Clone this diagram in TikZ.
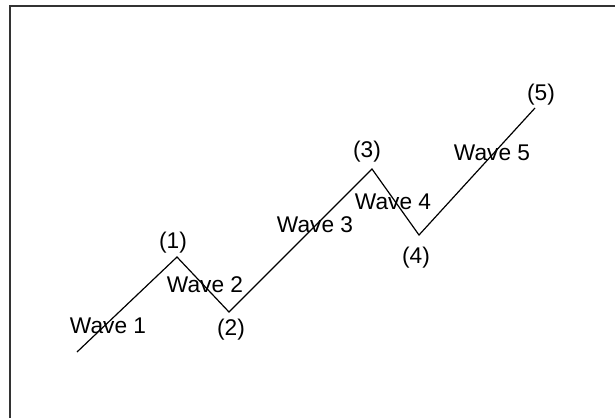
\documentclass[tikz,border=0pt]{standalone}
\usepackage{fontspec}
\setmainfont{Liberation Sans}
\usetikzlibrary{positioning}

\begin{document}
\begin{tikzpicture}[
    x=1pt, y=-1pt,
    frame/.style={line width=2pt, black!80},
    wave/.style={line width=1.2pt, line join=miter},
    lbl/.style={inner sep=0pt, font=\fontsize{22.7}{27}\selectfont}
]
    \useasboundingbox (0,0) rectangle (615,418);

    % 1. Moldura (apenas topo e esquerda)
    \coordinate (FA) at (10,418);
    \coordinate (FB) at (10,6);
    \coordinate (FC) at (615,6);
    \draw[frame] (FA) -- (FB) -- (FC);

    % 2. Pontos da onda
    \coordinate (P0) at (77,352);
    \coordinate (P1) at (177,257);
    \coordinate (P2) at (229,312);
    \coordinate (P3) at (372,169);
    \coordinate (P4) at (419,235);
    \coordinate (P5) at (535,108);

    % 3. Linha da onda
    \draw[wave] (P0) -- (P1) -- (P2) -- (P3) -- (P4) -- (P5);

    % 4. Rótulos dos pontos
    \node[lbl] (L1) at (173,243) {(1)};
    \node[lbl] (L2) at (231,330) {(2)};
    \node[lbl] (L3) at (367,152) {(3)};
    \node[lbl] (L4) at (416,258) {(4)};
    \node[lbl] (L5) at (541,95) {(5)};

    % 5. Rótulos das ondas
    \node[lbl] (W1) at (108,326) {Wave 1};
    \node[lbl] (W2) at (205,285) {Wave 2};
    \node[lbl] (W3) at (315,225) {Wave 3};
    \node[lbl] (W4) at (393,202) {Wave 4};
    \node[lbl] (W5) at (492,153) {Wave 5};

\end{tikzpicture}
\end{document}
